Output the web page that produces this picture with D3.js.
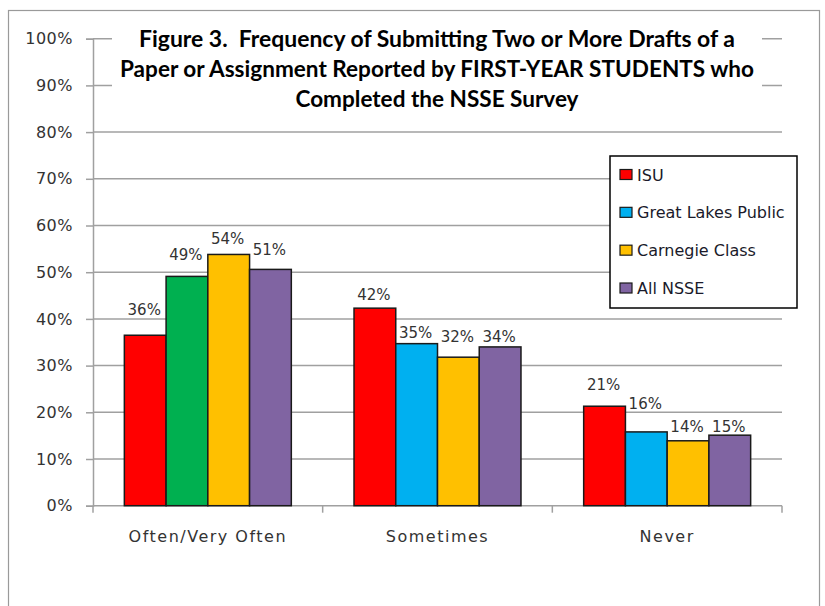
<!DOCTYPE html>
<html>
<head>
<meta charset="utf-8">
<script src="https://cdn.jsdelivr.net/npm/d3@7"></script>
<style>
  html, body { margin: 0; padding: 0; background: #fff; }
  svg { display: block; }
</style>
</head>
<body>
<svg id="chart" width="825" height="606"></svg>
<script>
// ---------- DATA ----------
const categories = ["Often/Very Often", "Sometimes", "Never"];
const seriesNames = ["ISU", "Great Lakes Public", "Carnegie Class", "All NSSE"];
const isuValues = [36.5, 42.3, 21.3];
const greatLakesValues = [49.1, 34.7, 15.8];
const carnegieValues = [53.8, 31.8, 13.9];
const allNsseValues = [50.6, 34.0, 15.1];
const valueLabels = [
  ["36%", "49%", "54%", "51%"],
  ["42%", "35%", "32%", "34%"],
  ["21%", "16%", "14%", "15%"]
];
const yTicks = [0, 10, 20, 30, 40, 50, 60, 70, 80, 90, 100];
const titleLines = [
  "Figure 3.  Frequency of Submitting Two or More Drafts of a",
  "Paper or Assignment Reported by FIRST-YEAR STUDENTS who",
  "Completed the NSSE Survey"
];

// ---------- STYLE / LAYOUT ----------
const seriesColors = ["#FF0000", "#00B0F0", "#FFC000", "#8064A2"];
// per-point colour override (category index, series index) -> colour
const pointColorOverride = { "0-1": "#00B050" };
// gap (px) between bar top and label baseline, per category/series
const labelGap = [[20, 16, 10, 14], [8, 6, 15, 5], [16, 23, 9, 3]];
const titleWidths = [596, 634, 283];

const svg = d3.select("#chart");
const plotLeft = 93, plotRight = 782, plotTop = 38.7, plotBottom = 505.7;

const values = [isuValues, greatLakesValues, carnegieValues, allNsseValues];

// outer frame
svg.append("rect").attr("x", 8.5).attr("y", 10.5).attr("width", 811).attr("height", 620)
  .attr("fill", "#fff").attr("stroke", "#9a9a9a").attr("stroke-width", 1.2);

const y = d3.scaleLinear().domain([0, 100]).range([plotBottom, plotTop]);
const x0 = d3.scaleBand().domain(categories).range([plotLeft, plotRight]).paddingInner(0).paddingOuter(0);
const bw = x0.bandwidth();
const x1 = d3.scaleBand().domain(seriesNames).range([bw * 0.1365, bw * (1 - 0.1365)]).padding(0);

// gridlines
svg.append("g").selectAll("line").data(yTicks.filter(d => d > 0)).join("line")
  .attr("x1", plotLeft).attr("x2", plotRight)
  .attr("y1", d => y(d)).attr("y2", d => y(d))
  .attr("stroke", "#a0a0a0").attr("stroke-width", 1.5);

// y axis
const yAxis = d3.axisLeft(y).tickValues(yTicks).tickFormat(d => d + "%").tickSize(7).tickPadding(13);
const gy = svg.append("g").attr("transform", `translate(${plotLeft},0)`).call(yAxis);
gy.select(".domain").attr("stroke", "#a0a0a0").attr("stroke-width", 1.5);
gy.selectAll(".tick line").attr("stroke", "#a0a0a0").attr("stroke-width", 1.5);
gy.selectAll(".tick text").attr("fill", "#333").style("font-family", "DejaVu Sans")
  .style("font-size", "16px").style("letter-spacing", "0.5px");

// x axis baseline + category ticks
svg.append("line").attr("x1", plotLeft).attr("x2", plotRight).attr("y1", plotBottom).attr("y2", plotBottom)
  .attr("stroke", "#a0a0a0").attr("stroke-width", 1.5);
const boundaries = categories.map(c => x0(c)).concat([x0(categories[categories.length - 1]) + bw]);
svg.append("g").selectAll("line").data(boundaries).join("line")
  .attr("x1", d => d).attr("x2", d => d).attr("y1", plotBottom).attr("y2", plotBottom + 7)
  .attr("stroke", "#a0a0a0").attr("stroke-width", 1.5);
svg.append("g").selectAll("text").data(categories).join("text")
  .attr("x", d => x0(d) + bw / 2).attr("y", 542)
  .attr("text-anchor", "middle").attr("fill", "#333")
  .style("font-family", "DejaVu Sans").style("font-size", "16px").style("letter-spacing", "1.5px")
  .text(d => d);

// bars
const flat = [];
categories.forEach((c, ci) => seriesNames.forEach((s, si) => {
  flat.push({ c, ci, s, si, v: values[si][ci], label: valueLabels[ci][si] });
}));
svg.append("g").selectAll("rect").data(flat).join("rect")
  .attr("x", d => x0(d.c) + x1(d.s))
  .attr("y", d => y(d.v))
  .attr("width", x1.bandwidth())
  .attr("height", d => plotBottom - y(d.v))
  .attr("fill", d => pointColorOverride[d.ci + "-" + d.si] || seriesColors[d.si])
  .attr("stroke", "#1a1a1a").attr("stroke-width", 1.5);

// value labels
svg.append("g").selectAll("text").data(flat).join("text")
  .attr("x", d => x0(d.c) + x1(d.s) + x1.bandwidth() / 2 - 1)
  .attr("y", d => y(d.v) - labelGap[d.ci][d.si])
  .attr("text-anchor", "middle").attr("fill", "#333")
  .style("font-family", "DejaVu Sans").style("font-size", "15px")
  .text(d => d.label);

// title box
svg.append("rect").attr("x", 112).attr("y", 18).attr("width", 650).attr("height", 104).attr("fill", "#fff");
const baselines = [47, 77, 106.5];
svg.append("g").selectAll("text").data(titleLines).join("text")
  .attr("x", 437).attr("y", (d, i) => baselines[i])
  .attr("text-anchor", "middle").attr("fill", "#000")
  .style("font-family", "Lato").style("font-weight", "bold").style("font-size", "23.5px")
  .style("white-space", "pre")
  .attr("textLength", (d, i) => titleWidths[i]).attr("lengthAdjust", "spacingAndGlyphs")
  .text(d => d);

// legend
const lg = svg.append("g");
lg.append("rect").attr("x", 610).attr("y", 156).attr("width", 187).attr("height", 152)
  .attr("fill", "#fff").attr("stroke", "#000").attr("stroke-width", 1.5);
const rowY = d3.scalePoint().domain(seriesNames).range([174.5, 288]);
lg.selectAll("rect.sw").data(seriesNames).join("rect").attr("class", "sw")
  .attr("x", 620).attr("y", d => rowY(d) - 5).attr("width", 12).attr("height", 10)
  .attr("fill", (d, i) => seriesColors[i]).attr("stroke", "#1a1a1a").attr("stroke-width", 1.2);
lg.selectAll("text").data(seriesNames).join("text")
  .attr("x", 637).attr("y", d => rowY(d) + 6)
  .attr("fill", "#1a1a2a")
  .style("font-family", "DejaVu Sans").style("font-size", "16px")
  .text(d => d);
</script>
</body>
</html>
